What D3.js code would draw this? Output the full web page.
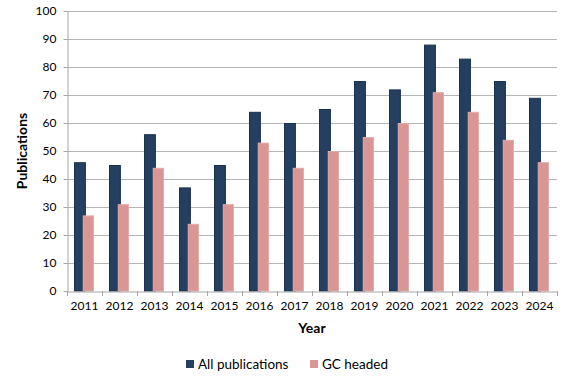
<!DOCTYPE html>
<html>
<head>
<meta charset="utf-8">
<script src="https://cdn.jsdelivr.net/npm/d3@7"></script>
<style>
  body { margin: 0; background: #fff; }
  text { font-family: Lato, "Open Sans", sans-serif; fill: #000; }
</style>
</head>
<body>
<div id="chart"></div>
<script>
// chart data
const years = ["2011", "2012", "2013", "2014", "2015", "2016", "2017",
               "2018", "2019", "2020", "2021", "2022", "2023", "2024"];
const allPubs = [46, 45, 56, 37, 45, 64, 60, 65, 75, 72, 88, 83, 75, 69];
const gcHeaded = [27, 31, 44, 24, 31, 53, 44, 50, 55, 60, 71, 64, 54, 46];
const yTicks = [0, 10, 20, 30, 40, 50, 60, 70, 80, 90, 100];
const seriesNames = ["All publications", "GC headed"];

const width = 571, height = 386;
const margin = {top: 11, right: 14, bottom: 95, left: 67};
const colors = {dark: "#243f60", darkEdge: "#1b3150", pink: "#d99694", pinkEdge: "#e3aaa8"};

const svg = d3.select("#chart").append("svg")
    .attr("width", width)
    .attr("height", height);

const x = d3.scaleBand()
    .domain(years)
    .range([margin.left, width - margin.right]);

const y = d3.scaleLinear()
    .domain([0, 100])
    .range([height - margin.bottom, margin.top]);

// gridlines
svg.append("g")
    .selectAll("line")
    .data(yTicks.filter(d => d > 0))
    .enter()
        .append("line")
        .attr("x1", margin.left)
        .attr("x2", width - margin.right)
        .attr("y1", d => Math.round(y(d)) + 0.5)
        .attr("y2", d => Math.round(y(d)) + 0.5)
        .attr("stroke", "#b5b5b5")
        .attr("stroke-width", 1);

// y axis, with short outside ticks
const yAxis = svg.append("g")
    .attr("transform", `translate(${margin.left + 0.5},0)`)
    .call(d3.axisLeft(y).tickValues(yTicks).tickSize(4).tickSizeOuter(0).tickPadding(7));
yAxis.select(".domain").attr("stroke", "#a6a6a6");
yAxis.selectAll(".tick line").attr("stroke", "#a6a6a6");
yAxis.selectAll("text").style("font-size", "12px");

// bars - all publications
const bw = x.bandwidth();
svg.append("g")
    .selectAll("rect")
    .data(allPubs)
    .enter()
        .append("rect")
        .attr("x", (d, i) => x(years[i]) + bw * 0.2 + 0.5)
        .attr("width", bw * 0.34 - 1)
        .attr("y", d => y(d) + 0.5)
        .attr("height", d => y(0) - y(d) - 0.5)
        .attr("fill", colors.dark)
        .attr("stroke", colors.darkEdge);

// bars - GC headed (drawn on top, overlapping)
svg.append("g")
    .selectAll("rect")
    .data(gcHeaded)
    .enter()
        .append("rect")
        .attr("x", (d, i) => x(years[i]) + bw * 0.45 + 0.5)
        .attr("width", bw * 0.32 - 1)
        .attr("y", d => y(d) + 0.5)
        .attr("height", d => y(0) - y(d) - 0.5)
        .attr("fill", colors.pink)
        .attr("stroke", colors.pinkEdge);

// x axis
const xAxis = svg.append("g")
    .attr("transform", `translate(0,${Math.round(y(0)) + 0.5})`)
    .call(d3.axisBottom(x).tickSize(0).tickPadding(10));
xAxis.select(".domain").attr("stroke", "#a6a6a6");
xAxis.selectAll("text").style("font-size", "12px");

// x tick marks at category boundaries
svg.append("g")
    .selectAll("line")
    .data(years.concat(["end"]))
    .enter()
        .append("line")
        .attr("x1", (d, i) => Math.round(margin.left + i * x.step()) + 0.5)
        .attr("x2", (d, i) => Math.round(margin.left + i * x.step()) + 0.5)
        .attr("y1", Math.round(y(0)))
        .attr("y2", Math.round(y(0)) + 5)
        .attr("stroke", "#a6a6a6");

// axis titles
svg.append("text")
    .attr("x", (margin.left + width - margin.right) / 2)
    .attr("y", 333)
    .attr("text-anchor", "middle")
    .style("font-size", "14px")
    .style("font-weight", "bold")
    .text("Year");

svg.append("text")
    .attr("transform", `translate(27,${(margin.top + y(0)) / 2}) rotate(-90)`)
    .attr("text-anchor", "middle")
    .style("font-size", "14px")
    .style("font-weight", "bold")
    .text("Publications");

// legend
const legend = svg.append("g");
const legendX = [186, 310];
const legendCols = [colors.dark, colors.pink];
seriesNames.forEach((name, i) => {
    legend.append("rect")
        .attr("x", legendX[i])
        .attr("y", 360)
        .attr("width", 8)
        .attr("height", 8)
        .attr("fill", legendCols[i]);
    legend.append("text")
        .attr("x", legendX[i] + 12)
        .attr("y", 369)
        .style("font-size", "13.5px")
        .text(name);
});
</script>
</body>
</html>
